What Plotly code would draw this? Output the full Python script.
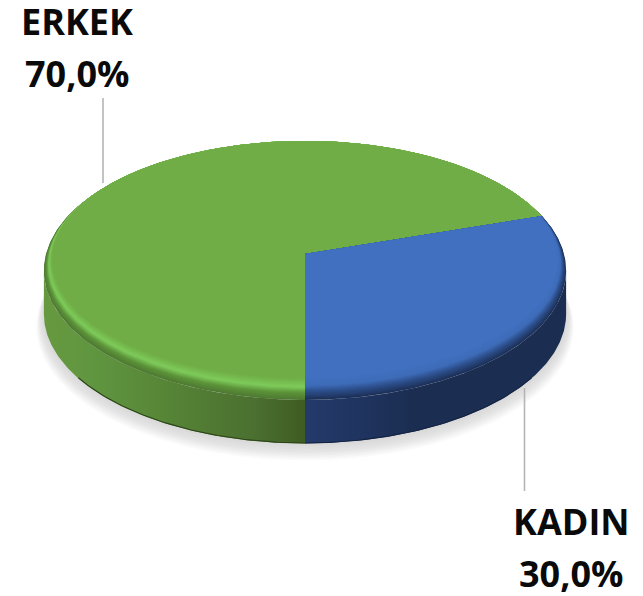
import numpy as np
import plotly.graph_objects as go

categories = ["ERKEK", "KADIN"]
values = [70.0, 30.0]
slice_colors = ["#70AD47", "#4070BF"]
rotation_deg = 180.0

W, H = 643, 596
CX, CY = 305.0, 254.0      # apex of the pie on the page
RX, RY = 259.0, 127.4      # projected radii
PERSP = 0.127              # perspective strength
DEPTH = 43.5               # thickness of the disc
INSET_U, INSET_V = 0.022, 0.065


def project(u, v, dy=0.0, grow=1.0):
    s = 1.0 / (1.0 - PERSP * v)
    return CX + RX * grow * u * s, CY + RY * grow * v * s + dy


def ring(theta, t):
    """Disc coordinates of the bevel curve t (0 outer, 1 inner) along rays theta."""
    a, b = 1 - INSET_U * t, 1 - INSET_V * t
    c = INSET_V * t
    su, cv = np.sin(theta), -np.cos(theta)
    qa = su**2 / a**2 + cv**2 / b**2
    qb = 2 * cv * c / b**2
    qc = c**2 / b**2 - 1
    r = (-qb + np.sqrt(qb**2 - 4 * qa * qc)) / (2 * qa)
    return r * su, r * cv


def mix(stops, t):
    xs = [s[0] for s in stops]
    cols = [[int(s[1][i:i + 2], 16) for i in (1, 3, 5)] for s in stops]
    rgb = [np.interp(t, xs, [c[k] for c in cols]) for k in range(3)]
    return "rgb(%d,%d,%d)" % tuple(round(x) for x in rgb)


def poly(x, y, color, **kw):
    return go.Scatter(x=list(x), y=list(y), mode="lines", fill="toself", fillcolor=color,
                      line=dict(width=0), hoverinfo="skip", showlegend=False, **kw)


# slice angle ranges, clockwise from the top, derived from the values
total = sum(values)
spans = []
start = np.radians(rotation_deg)
for val in values:
    end = start + 2 * np.pi * val / total
    spans.append((start, end))
    start = end

bevel_stops = [
    [(0, "#4f7a33"), (0.3, "#5c9339"), (0.58, "#7ecb5b"), (0.8, "#76bb4f"), (1, slice_colors[0])],
    [(0, "#1d3159"), (0.35, "#2c4d88"), (0.65, "#3e6cb8"), (1, slice_colors[1])],
]
side_scales = [
    [[0, "#66993f"], [0.2, "#609540"], [0.48, "#568436"], [0.8, "#4b7030"], [1, "#3f5c22"]],
    [[0, "#243a6a"], [0.2, "#1f3460"], [0.4, "#1b2e52"], [1, "#1b2e52"]],
]

fig = go.Figure()

# soft shadow beneath the disc
all_th = np.linspace(0, 2 * np.pi, 361)
N_SH = 12
for k in range(N_SH):
    f = 1 - k / (N_SH - 1)
    ux, vy = project(np.sin(all_th), -np.cos(all_th), dy=DEPTH + 1 + 13 * f, grow=1 + 0.032 * f)
    fig.add_trace(poly(ux, vy, mix([(0, "#d8d8d8"), (0.45, "#e4e4e4"), (1, "#ffffff")], f)))

# side walls
left_th = 2 * np.pi - np.arcsin(1.0) - np.arcsin(PERSP)  # silhouette point on the left
right_th = np.pi / 2 + np.arcsin(PERSP)                  # silhouette point on the right
walls = [(np.pi, left_th), (right_th, np.pi)]
for (a0, a1), scale in zip(walls, side_scales):
    th = np.linspace(a0, a1, 160)
    ux, vy = project(np.sin(th), -np.cos(th))
    bx, by = project(np.sin(th), -np.cos(th), dy=DEPTH)
    fig.add_trace(go.Scatter(
        x=np.r_[ux, bx[::-1], ux[0]], y=np.r_[vy, by[::-1], vy[0]], mode="lines", fill="toself",
        fillgradient=dict(type="horizontal", colorscale=scale),
        line=dict(width=0), hoverinfo="skip", showlegend=False))
    # darker foot of the wall, on the part that faces the viewer
    front = np.abs(th - np.pi) < 0.95
    edge = "#2c4418" if a0 == np.pi else "#142342"
    fig.add_trace(go.Scatter(x=bx[front], y=by[front] - 0.5, mode="lines",
                             line=dict(color=edge, width=1.1),
                             hoverinfo="skip", showlegend=False))

# top face: nested wedges draw the bevel from outer curve to flat face
N_B = 18
for (a0, a1), stops, color in zip(spans, bevel_stops, slice_colors):
    for k in range(N_B + 1):
        t = k / N_B
        th = np.linspace(a0, a1, 260)
        u, v = ring(th, t)
        x, y = project(u, v)
        fig.add_trace(poly(np.r_[CX, x, CX], np.r_[CY, y, CY], mix(stops, t)))

# data labels and their leader lines
label_xy = {"ERKEK": (77, 21, 73), "KADIN": (571, 521, 573)}
leaders = {"ERKEK": ([103, 103], [98, 183]), "KADIN": ([524.5, 524.5], [388, 491])}
for cat, val in zip(categories, values):
    lx, ly = leaders[cat]
    fig.add_trace(go.Scatter(x=lx, y=ly, mode="lines", line=dict(color="#b5b5b5", width=1.6),
                             hoverinfo="skip", showlegend=False))
    px, y1, y2 = label_xy[cat]
    for text, yy in ((cat, y1), (f"{val:.1f}".replace(".", ",") + "%", y2)):
        fig.add_annotation(x=px, y=yy, text=f"<b>{text}</b>", showarrow=False,
                           xanchor="center", yanchor="middle",
                           font=dict(family="Open Sans", size=36, color="#0a0a0a"))

fig.update_layout(
    width=W, height=H, margin=dict(l=0, r=0, t=0, b=0),
    paper_bgcolor="white", plot_bgcolor="white", showlegend=False,
    xaxis=dict(range=[0, W], visible=False, fixedrange=True),
    yaxis=dict(range=[H, 0], visible=False, fixedrange=True),
)
fig.write_html("out.html", config=dict(displayModeBar=False),
               post_script="document.body.style.margin='0';document.body.style.overflow='hidden';")
